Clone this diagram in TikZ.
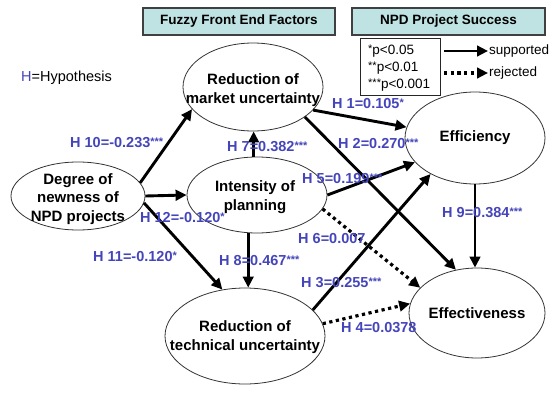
\documentclass[tikz,border=0pt]{standalone}
\usepackage{fontspec}
\setmainfont{Liberation Sans}
\usetikzlibrary{arrows.meta,shapes.geometric}
\definecolor{lblue}{HTML}{4545BB}
\definecolor{hdrfill}{HTML}{BFE2E3}
\newcommand\stars[1]{\raisebox{0.3ex}{\fontsize{11}{11}\selectfont #1}}
\begin{document}
\begin{tikzpicture}[x=1pt,y=-1pt,
  every node/.style={inner sep=0pt},
  ellbox/.style={draw=black!80, line width=0.8pt, ellipse},
  elltext/.style={align=center, font=\fontsize{15}{18.5}\selectfont\bfseries},
  hdr/.style={draw=black!75, line width=1.2pt, fill=hdrfill, font=\fontsize{13.5}{16}\selectfont\bfseries},
  lbl/.style={text=lblue, font=\fontsize{14.5}{16}\selectfont\bfseries, anchor=west},
  legtext/.style={font=\fontsize{13.5}{17}\selectfont, anchor=west},
  arr/.style={line width=2.9pt, -{Triangle[length=11pt,width=10.5pt]}},
  darr/.style={line width=3.2pt, dash pattern=on 3.2pt off 3.5pt, -{Triangle[length=11pt,width=10.5pt]}},
]
\useasboundingbox (0,0) rectangle (554,412);

% headers
\node[hdr, minimum width=192pt, minimum height=27pt] (hfuzzy) at (239,21.5) {Fuzzy Front End Factors};
\node[hdr, minimum width=193pt, minimum height=27pt] (hnpd) at (448.5,21.5) {NPD Project Success};

% legend
\node[draw=black!85, line width=1pt, minimum width=80pt, minimum height=56pt] (legbox) at (400,67) {};
\node[legtext, align=left] (legp) at (368,68) {\stars{*}p<0.05\\\stars{**}p<0.01\\\stars{***}p<0.001};
\coordinate (ls1) at (444,51);
\coordinate (le1) at (488,51);
\coordinate (ls2) at (444,73);
\coordinate (le2) at (488,73);
\draw[arr] (ls1) -- (le1);
\draw[darr] (ls2) -- (le2);
\node[legtext] (lsup) at (489,51) {supported};
\node[legtext] (lrej) at (489,73) {rejected};

\node[anchor=west, font=\fontsize{14.5}{16}\selectfont] (hyp) at (21,78) {\textcolor{lblue}{H}=Hypothesis};

% ellipses
\node[ellbox, minimum width=134pt, minimum height=68pt] (deg) at (78,196) {};
\node[elltext] (degT) at (78,199) {Degree of\\newness of\\NPD projects};
\node[ellbox, minimum width=140pt, minimum height=88pt] (mkt) at (253,87) {};
\node[elltext] (mktT) at (253,90) {Reduction of\\market uncertainty};
\node[ellbox, minimum width=140pt, minimum height=76pt] (int) at (257,195) {};
\node[elltext] (intT) at (255,197) {Intensity of\\planning};
\node[ellbox, minimum width=160pt, minimum height=96pt] (tech) at (245,336) {};
\node[elltext] (techT) at (245,337) {Reduction of\\technical uncertainty};
\node[ellbox, minimum width=140pt, minimum height=92pt] (eff) at (475,138) {};
\node[elltext] (effT) at (475,138) {Efficiency};
\node[ellbox, minimum width=136pt, minimum height=90pt] (efs) at (477,313) {};
\node[elltext] (efsT) at (477,313) {Effectiveness};

% connectors
\draw[arr] (deg.12) -- (mkt.200);
\draw[arr] (deg.0) -- (int.180);
\draw[arr] (deg.-6) -- (tech.116);
\draw[arr] (int.95) -- (int.95 |- mkt.south);
\draw[arr] (int.257) -- (int.257 |- tech.north);
\draw[arr] (mkt.-21) -- (eff.171);
\draw[arr] (mkt.-30) -- (efs.116);
\draw[arr] (int.0) -- (eff.202);
\draw[darr] (int.-12) -- (efs.156);
\draw[arr] (tech.21) -- (eff.219);
\draw[darr] (tech.9) -- (efs.172);
\draw[arr] (eff.south) -- (eff.south |- efs.north);

% labels
\node[lbl] (h10) at (70,143) {H 10=-0.233\stars{***}};
\node[lbl] (h7) at (227,147) {H 7=0.382\stars{***}};
\node[lbl] (h12) at (140,218) {H 12=-0.120\stars{*}};
\node[lbl] (h11) at (93,257) {H 11=-0.120\stars{*}};
\node[lbl] (h8) at (219,261) {H 8=0.467\stars{***}};
\node[lbl] (h1) at (332,104) {H 1=0.105\stars{*}};
\node[lbl] (h2) at (338,144) {H 2=0.270\stars{***}};
\node[lbl] (h5) at (302,179) {H 5=0.199\stars{***}};
\node[lbl] (h6) at (298,239) {H 6=0.007};
\node[lbl] (h3) at (301,283) {H 3=0.255\stars{***}};
\node[lbl] (h4) at (341,328) {H 4=0.0378};
\node[lbl] (h9) at (442,213) {H 9=0.384\stars{***}};
\end{tikzpicture}
\end{document}
